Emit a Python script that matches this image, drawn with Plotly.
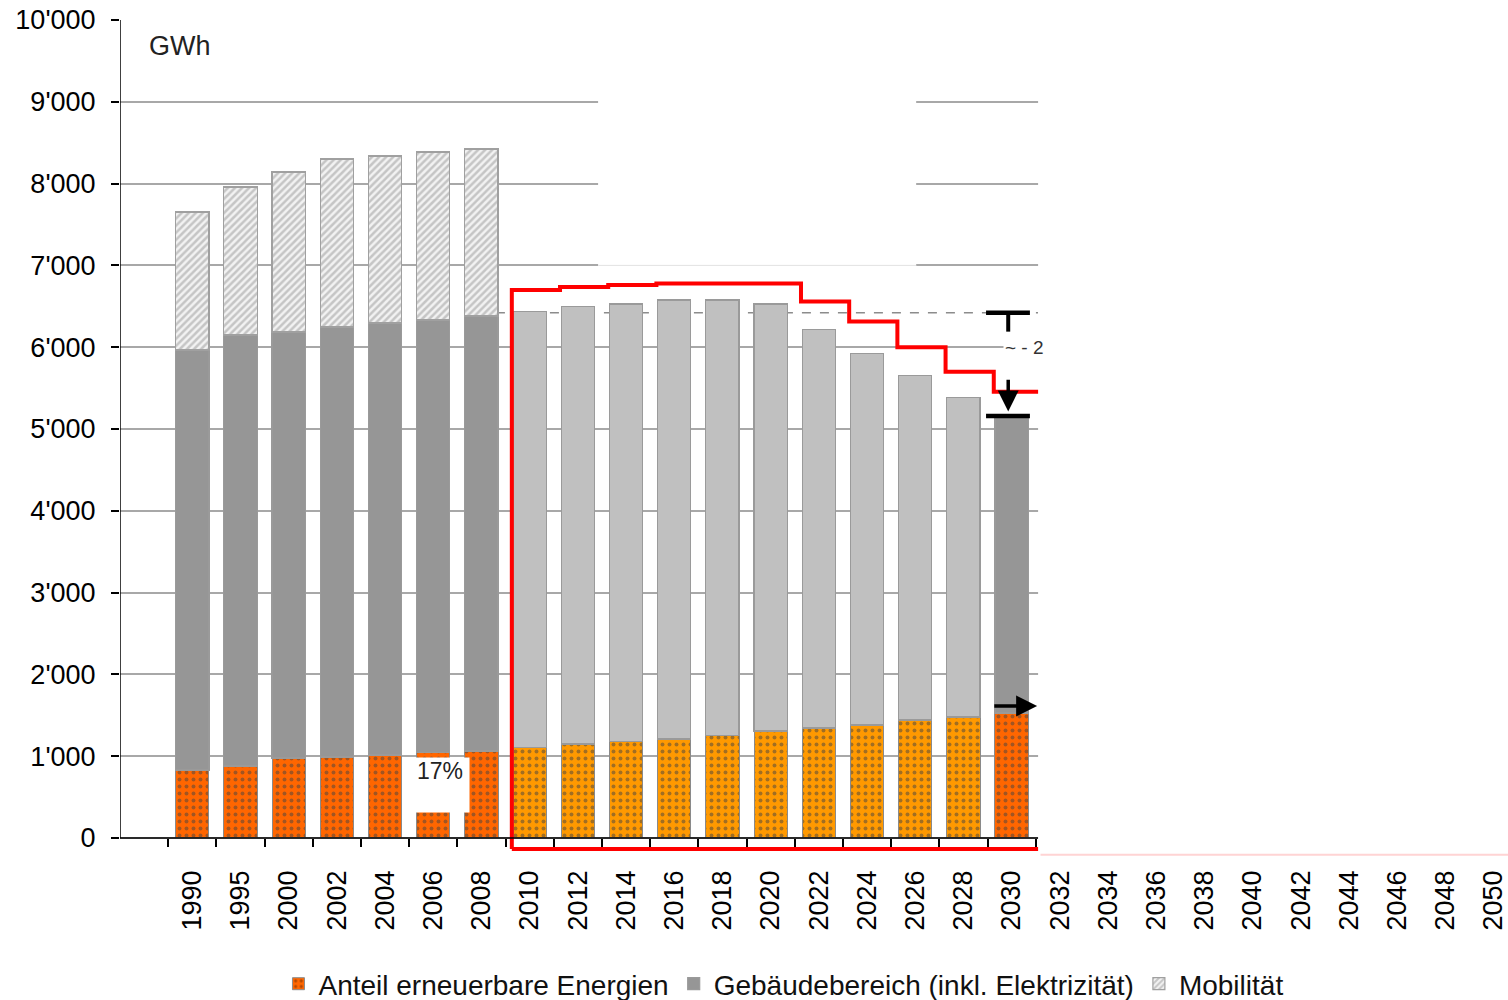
import plotly.graph_objects as go

# ---------------- data ----------------
jahre = ["1990", "1995", "2000", "2002", "2004", "2006", "2008", "2010", "2012", "2014",
         "2016", "2018", "2020", "2022", "2024", "2026", "2028", "2030", "2032", "2034",
         "2036", "2038", "2040", "2042", "2044", "2046", "2048", "2050"]

# segment values in GWh (None = no bar)
erneuerbar = [831, 880, 978, 990, 1015, 1040, 1064, 1108, 1149, 1182,
              1210, 1255, 1308, 1345, 1381, 1443, 1479, 1528] + [None] * 10
gebaeude = [5135, 5269, 5208, 5257, 5281, 5293, 5317, 5326, 5346, 5346,
            5367, 5322, 5220, 4874, 4544, 4213, 3904, 3622] + [None] * 10
mobilitaet = [1687, 1809, 1956, 2054, 2041, 2053, 2042] + [None] * 21

# target step line (2010 ... 2030)
ziel_jahre = ["2010", "2012", "2014", "2016", "2018", "2020", "2022", "2024", "2026", "2028", "2030"]
ziel = [6700, 6735, 6760, 6780, 6780, 6780, 6560, 6315, 6000, 5700, 5455]

referenz_2010 = 6422      # dashed reference level
ziel_2030 = 5159          # bottom bar of the reduction marker
anteil_label = "17%"

ytick_vals = list(range(0, 10001, 1000))
ytick_text = ["0", "1'000", "2'000", "3'000", "4'000", "5'000", "6'000", "7'000", "8'000", "9'000", "10'000"]

# ---------------- styling ----------------
idx = list(range(len(jahre)))
hist = {"1990", "1995", "2000", "2002", "2004", "2006", "2008", "2030"}
OR_D, OR_L = "#FF6600", "#FF9900"
GR_D, GR_L = "#969696", "#C0C0C0"
or_col = [OR_D if j in hist else OR_L for j in jahre]
or_fg = ["#6a2a00" if j in hist else "#c98a45" for j in jahre]
gr_col = [GR_D if j in hist else GR_L for j in jahre]

YMIN, YMAX = -245, 10000
XMIN, XMAX = -1.5, 27.3
CUT = 17.55        # right edge of the visible chart region
FONT = "Liberation Sans, Arial, sans-serif"

fig = go.Figure()

fig.add_trace(go.Bar(
    x=idx, y=erneuerbar, width=0.69, name="Anteil erneuerbare Energien",
    marker=dict(color=or_col, line=dict(color="#8a8a8a", width=1),
                pattern=dict(shape=".", fgcolor=or_fg, bgcolor=or_col, size=7, solidity=0.25)),
))
fig.add_trace(go.Bar(
    x=idx, y=gebaeude, width=0.69, name="Gebäudebereich (inkl. Elektrizität)",
    marker=dict(color=gr_col, line=dict(color="#9a9a9a", width=1.2)),
))
fig.add_trace(go.Bar(
    x=idx, y=mobilitaet, width=0.69, name="Mobilität",
    marker=dict(color="#ffffff", line=dict(color="#a0a0a0", width=1.2),
                pattern=dict(shape="/", fgcolor="#989898", bgcolor="#f2f2f2", size=5, solidity=0.5)),
))

# red target polygon (step line)
off = -0.37
bottom = -135
zx = [jahre.index(j) + off for j in ziel_jahre]
px = [zx[0]] + zx + [CUT + 0.2, CUT + 0.2, zx[0]]
py = [bottom] + ziel + [ziel[-1], bottom, bottom]
fig.add_trace(go.Scatter(x=px, y=py, mode="lines", line=dict(color="#ff0000", width=4, shape="hv"),
                         showlegend=False, hoverinfo="skip"))

shapes = []
# white patch over gridlines (artefact of the original)
shapes.append(dict(type="rect", xref="x", yref="y", x0=8.42, x1=15.02, y0=6985, y1=9100,
                   fillcolor="white", line=dict(width=0), layer="between"))
shapes.append(dict(type="line", xref="x", yref="y", x0=8.42, x1=15.02, y0=7000, y1=7000,
                   line=dict(color="#e2e2e2", width=1), layer="between"))
# dashed reference line
shapes.append(dict(type="line", xref="x", yref="y", x0=6.3, x1=CUT, y0=referenz_2010, y1=referenz_2010,
                   line=dict(color="#8c8c8c", width=1.5, dash="dash"), layer="between"))
# axes lines
shapes.append(dict(type="line", xref="x", yref="y", x0=XMIN, x1=XMIN, y0=0, y1=YMAX,
                   line=dict(color="black", width=1.5), layer="above"))
shapes.append(dict(type="line", xref="x", yref="y", x0=XMIN, x1=CUT, y0=0, y1=0,
                   line=dict(color="black", width=1.5), layer="above"))
# reduction marker (T and bar)
i30 = jahre.index("2030")
shapes.append(dict(type="line", xref="x", yref="y", x0=i30 - 0.53, x1=i30 + 0.38,
                   y0=referenz_2010, y1=referenz_2010, line=dict(color="black", width=4.5), layer="above"))
shapes.append(dict(type="line", xref="x", yref="y", x0=i30 - 0.07, x1=i30 - 0.07,
                   y0=referenz_2010, y1=6190, line=dict(color="black", width=4), layer="above"))
shapes.append(dict(type="line", xref="x", yref="y", x0=i30 - 0.53, x1=i30 + 0.38,
                   y0=ziel_2030, y1=ziel_2030, line=dict(color="black", width=4.5), layer="above"))
# cover for the truncated right side
shapes.append(dict(type="rect", xref="x", yref="paper", x0=CUT, x1=XMAX + 1, y0=0, y1=1.05,
                   fillcolor="white", line=dict(width=0), layer="above"))
shapes.append(dict(type="line", xref="x", yref="y", x0=CUT + 0.05, x1=XMAX, y0=-205, y1=-205,
                   line=dict(color="rgba(255,60,60,0.22)", width=2), layer="above"))

annotations = [
    dict(x=-0.26, y=9680, xref="x", yref="y", text="GWh", showarrow=False,
         font=dict(size=27, color="#222", family=FONT)),
    dict(x=5.14, y=648, xref="x", yref="y", text=anteil_label, showarrow=False,
         bgcolor="white", width=58, height=54, valign="top", borderpad=0,
         font=dict(size=23, color="#222", family=FONT)),
    dict(x=i30 - 0.17, y=6000, xref="x", yref="y", text="~ - 2", showarrow=False, xanchor="left",
         bgcolor="white", font=dict(size=19, color="#333", family=FONT)),
    # down arrow
    dict(x=i30 - 0.07, y=5215, ax=i30 - 0.07, ay=5620, xref="x", yref="y", axref="x", ayref="y",
         text="", showarrow=True, arrowhead=2, arrowsize=1.2, arrowwidth=3.5, arrowcolor="black"),
    # right arrow
    dict(x=CUT - 0.02, y=1614, ax=i30 - 0.39, ay=1614, xref="x", yref="y", axref="x", ayref="y",
         text="", showarrow=True, arrowhead=2, arrowsize=1.2, arrowwidth=3.5, arrowcolor="black"),
]

fig.update_layout(
    width=1508, height=1000,
    margin=dict(l=120, r=0, t=20, b=142, autoexpand=False),
    barmode="stack", bargap=0.3,
    plot_bgcolor="white", paper_bgcolor="white",
    font=dict(family=FONT, color="black"),
    shapes=shapes, annotations=annotations,
    legend=dict(orientation="h", x=0.478, xanchor="center", yref="container", y=0.016,
                yanchor="middle", traceorder="normal", font=dict(size=28, color="#111"),
                itemwidth=30, bgcolor="rgba(0,0,0,0)"),
    xaxis=dict(range=[XMIN, XMAX], tickmode="array", tickvals=idx, ticktext=jahre,
               tickangle=-90, ticks="", showgrid=False, zeroline=False, showline=False,
               anchor="free", position=(0 - YMIN) / (YMAX - YMIN), automargin=False,
               ticklabeloverflow="allow",
               ticklabelstandoff=26, tickfont=dict(size=27, color="black"),
               minor=dict(tickmode="array", tickvals=[i - 0.5 for i in range(0, 19)],
                          ticks="outside", ticklen=8, tickwidth=1.5, tickcolor="black", showgrid=False)),
    yaxis=dict(range=[YMIN, YMAX], tickmode="array", tickvals=ytick_vals, ticktext=ytick_text,
               ticks="outside", ticklen=8, tickwidth=1.5, tickcolor="black", automargin=False,
               ticklabeloverflow="allow",
               showgrid=True, gridcolor="#a8a8a8", gridwidth=1.5, zeroline=False, showline=False,
               ticklabelstandoff=10, tickfont=dict(size=27, color="black")),
)

# remove the default 8 px page margin so the figure fills the window exactly
fig.write_html("out.html", config={"displayModeBar": False},
               post_script="document.body.style.margin='0';document.body.style.overflow='hidden';")
